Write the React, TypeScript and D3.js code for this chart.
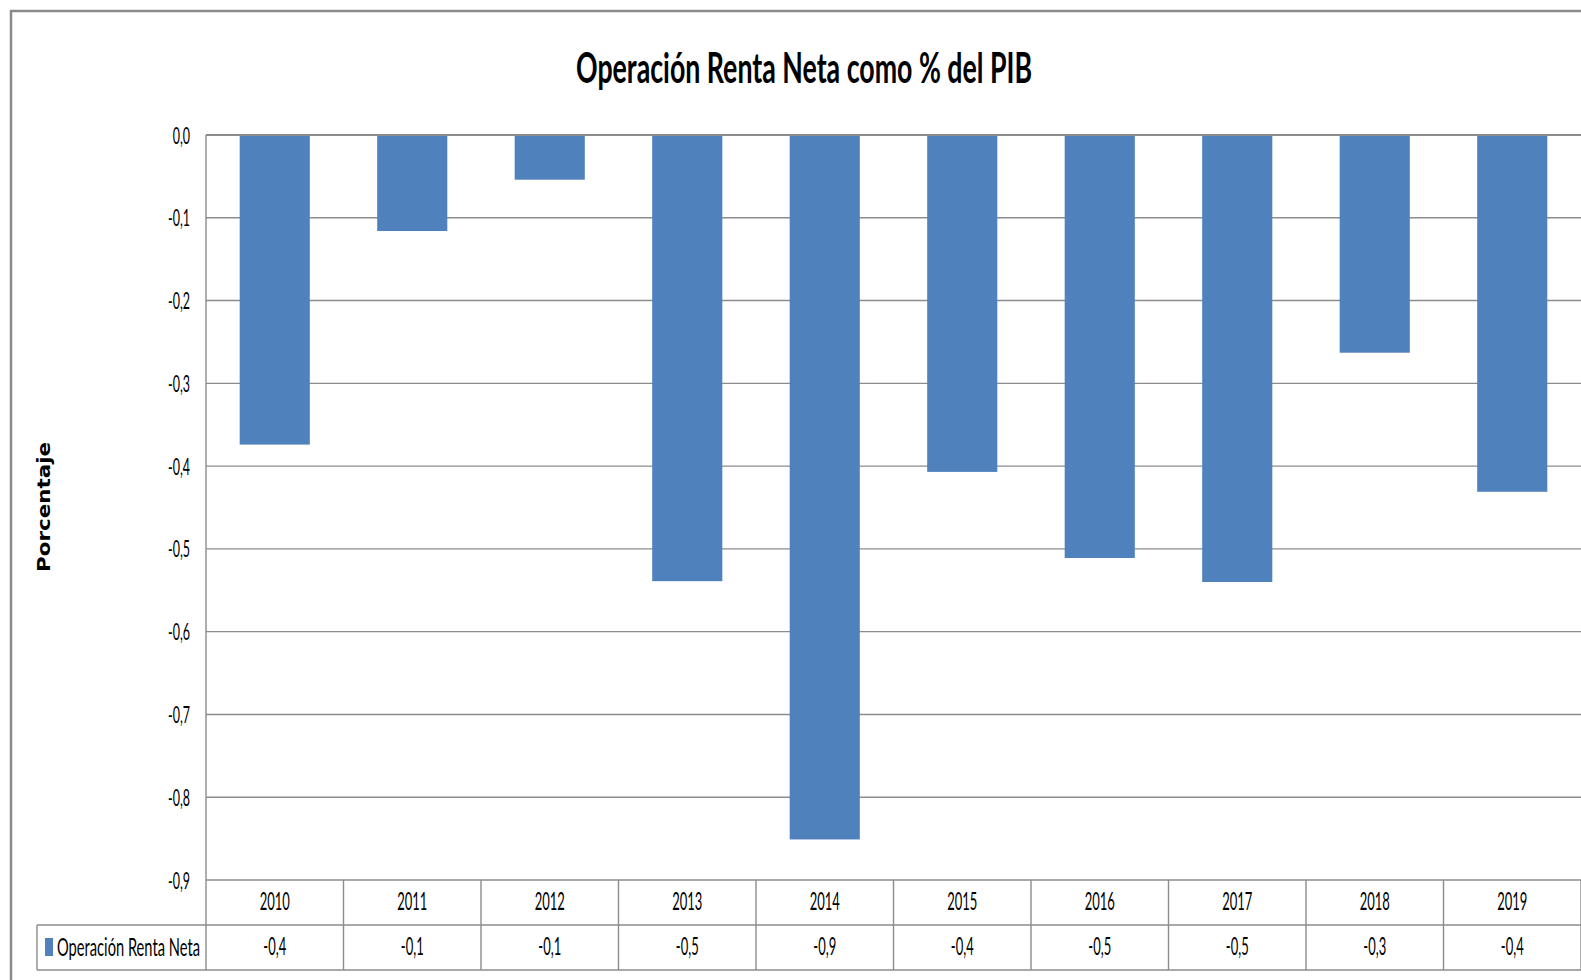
import React from "react";
import * as d3 from "d3";

const years = ["2010", "2011", "2012", "2013", "2014", "2015", "2016", "2017", "2018", "2019"];
const values = [-0.374, -0.116, -0.054, -0.539, -0.851, -0.407, -0.511, -0.54, -0.263, -0.431];
const yTicks = [0, -0.1, -0.2, -0.3, -0.4, -0.5, -0.6, -0.7, -0.8, -0.9];
const seriesName = "Operación Renta Neta";
const titleText = "Operación Renta Neta como % del PIB";
const yTitle = "Porcentaje";

const W = 1581;
const H = 980;
const plotLeft = 206;
const plotRight = 1581;
const plotTop = 135;
const plotBottom = 880;
const rowMid = 925;
const rowBottom = 970;
const legendLeft = 37;
const gridColor = "#8c8c8c";
const barColor = "#4F81BD";
const font = "Lato, 'Open Sans', sans-serif";
const SX = 0.52;

const fmt = (v: number) => {
  const s = v.toFixed(1).replace(".", ",");
  return s === "-0,0" ? "0,0" : s;
};

export default function App() {
  const x = d3
    .scaleBand<string>()
    .domain(years)
    .range([plotLeft, plotRight])
    .paddingInner(0.49)
    .paddingOuter(0.245);
  const y = d3.scaleLinear().domain([0, -0.9]).range([plotTop, plotBottom]);
  const step = x.step();
  const colStart = (i: number) => plotLeft + i * step;

  return (
    <svg
      width={W}
      height={H}
      style={{ position: "fixed", left: 0, top: 0, background: "#fff" }}
    >
      <rect x={0} y={0} width={W} height={H} fill="#fff" />
      <rect x={11} y={11} width={W + 20} height={H + 20} fill="#fff" stroke="#8a8a8a" strokeWidth={2.5} />

      <text
        x={804}
        y={83}
        textAnchor="middle"
        fontFamily={font}
        fontWeight={700}
        fontSize={42}
        textLength={456}
        lengthAdjust="spacingAndGlyphs"
        fill="#000"
      >
        {titleText}
      </text>

      {yTicks.map((t) => (
        <line
          key={t}
          x1={plotLeft}
          x2={plotRight}
          y1={y(t)}
          y2={y(t)}
          stroke={gridColor}
          strokeWidth={t === 0 ? 2.2 : 1.4}
        />
      ))}

      {years.map((yr, i) => {
        const v = values[i];
        return (
          <rect
            key={yr}
            x={x(yr)}
            y={y(0)}
            width={x.bandwidth()}
            height={y(v) - y(0)}
            fill={barColor}
          />
        );
      })}

      <line x1={plotLeft} x2={plotRight} y1={y(0)} y2={y(0)} stroke={gridColor} strokeWidth={2.2} />

      {yTicks.map((t) => (
        <text
          key={"l" + t}
          transform={`translate(190,${y(t) + 8.5}) scale(${SX},1)`}
          textAnchor="end"
          fontFamily={font}
          fontSize={24}
          fill="#000"
        >
          {fmt(t)}
        </text>
      ))}

      <text
        transform={`translate(50,507) rotate(-90)`}
        textAnchor="middle"
        fontFamily="'DejaVu Sans', sans-serif"
        fontWeight={700}
        fontSize={17}
        textLength={130}
        lengthAdjust="spacingAndGlyphs"
        fill="#000"
      >
        {yTitle}
      </text>

      <line x1={plotLeft} x2={plotLeft} y1={plotTop} y2={rowBottom} stroke={gridColor} strokeWidth={1.4} />
      <line x1={legendLeft} x2={plotRight} y1={rowMid} y2={rowMid} stroke={gridColor} strokeWidth={1.4} />
      <line x1={legendLeft} x2={plotRight} y1={rowBottom} y2={rowBottom} stroke={gridColor} strokeWidth={1.4} />
      <line x1={legendLeft} x2={legendLeft} y1={rowMid} y2={rowBottom} stroke={gridColor} strokeWidth={1.4} />
      {years.map((yr, i) => (
        <line
          key={"v" + yr}
          x1={colStart(i + 1)}
          x2={colStart(i + 1)}
          y1={plotBottom}
          y2={rowBottom}
          stroke={gridColor}
          strokeWidth={1.4}
        />
      ))}

      {years.map((yr) => (
        <text
          key={"c" + yr}
          transform={`translate(${(x(yr) as number) + x.bandwidth() / 2},910) scale(${SX},1)`}
          textAnchor="middle"
          fontFamily={font}
          fontSize={25}
          fill="#000"
        >
          {yr}
        </text>
      ))}

      {years.map((yr, i) => (
        <text
          key={"d" + yr}
          transform={`translate(${(x(yr) as number) + x.bandwidth() / 2},955) scale(${SX},1)`}
          textAnchor="middle"
          fontFamily={font}
          fontSize={25}
          fill="#000"
        >
          {fmt(values[i])}
        </text>
      ))}

      <rect x={45} y={938} width={8} height={18} fill={barColor} />
      <text
        x={57}
        y={956}
        fontFamily={font}
        fontSize={25}
        textLength={143}
        lengthAdjust="spacingAndGlyphs"
        fill="#000"
      >
        {seriesName}
      </text>
    </svg>
  );
}
